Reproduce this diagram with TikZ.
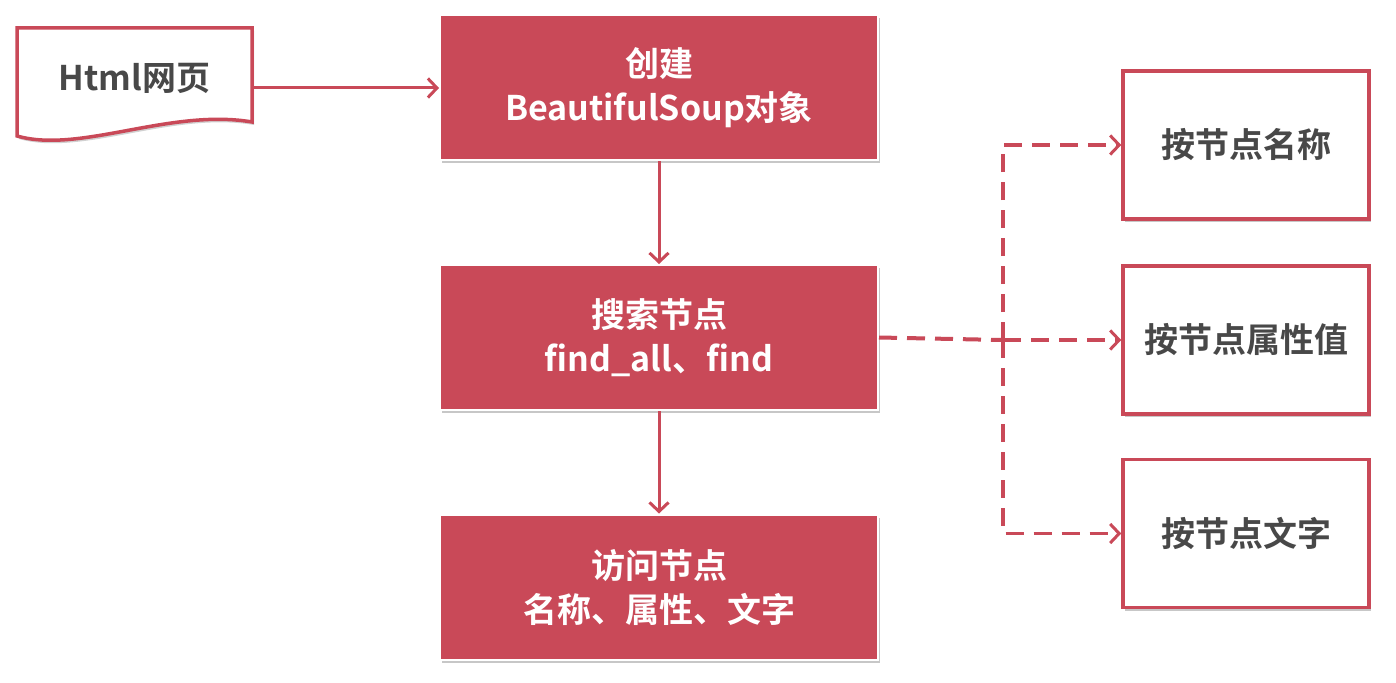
\documentclass[tikz,border=0pt]{standalone}
\usepackage{fontspec}
\setmainfont{Noto Sans CJK SC}[BoldFont={* Bold}]
\usetikzlibrary{arrows.meta,shadows}
\definecolor{boxred}{RGB}{201,73,88}
\definecolor{inkgray}{RGB}{72,72,72}
\tikzset{
  softshadow/.style={drop shadow={shadow xshift=2pt,shadow yshift=-3pt,opacity=0.22,fill=black}},
  labelfont/.style={font=\fontsize{34}{44}\selectfont\bfseries},
  stepbox/.style={rectangle,fill=boxred,draw=white,line width=2pt,minimum width=438pt,minimum height=145pt,
    text=white,labelfont,align=center,softshadow},
  optbox/.style={rectangle,fill=white,draw=boxred,line width=3.5pt,minimum width=246pt,minimum height=148pt,
    text=inkgray,labelfont,align=center,softshadow},
  flow/.style={draw=boxred,line width=3pt,-{Straight Barb[length=9pt,width=19pt,line width=3pt]}},
  dflow/.style={flow,line width=3.5pt,dash pattern=on 18pt off 10pt},
}
\begin{document}
\begin{tikzpicture}[x=1pt,y=-1pt]
\useasboundingbox (0,0) rectangle (1396,682);
\fill[white] (0,0) rectangle (1396,682);

% source document with wavy lower edge
\node[inner sep=0pt,minimum width=235pt,minimum height=92pt] (html) at (134.5,76) {};
\fill[black,opacity=0.18,xshift=2pt,yshift=-3pt]
  (17,28) -- (252,28) -- (252,122) .. controls (170,108) and (80,154) .. (17,136) -- cycle;
\filldraw[fill=white,draw=boxred,line width=3.5pt,line join=miter]
  (17,28) -- (252,28) -- (252,122) .. controls (170,108) and (80,154) .. (17,136) -- cycle;
\node[inner sep=0pt,text=inkgray,labelfont] at ([yshift=-2pt]html.center) {Html网页};

% main processing steps
\node[stepbox] (create) at (659,87.5) {创建\\BeautifulSoup对象};
\node[stepbox] (search) at (659,337.5) {搜索节点\\find\_all、find};
\node[stepbox] (visit)  at (659,587) {访问节点\\名称、属性、文字};

% search options
\node[optbox] (byname) at (1246,145) {按节点名称};
\node[optbox] (byattr) at (1246,340) {按节点属性值};
\node[optbox] (bytext) at (1246,533.5) {按节点文字};

% connectors
\draw[flow] (html.east |- 0,88) -- (create.west |- 0,88);
\draw[flow] (create.south) -- (search.north);
\draw[flow] (search.south) -- (visit.north);

\coordinate (split) at (1003,340);
\draw[draw=boxred,line width=4pt,dash pattern=on 18pt off 10pt] (search.east) -- (split);
\draw[dflow] (split) |- (byname.west);
\draw[dflow] (split) -- (byattr.west);
\draw[dflow] (split) |- (bytext.west);
\end{tikzpicture}
\end{document}
